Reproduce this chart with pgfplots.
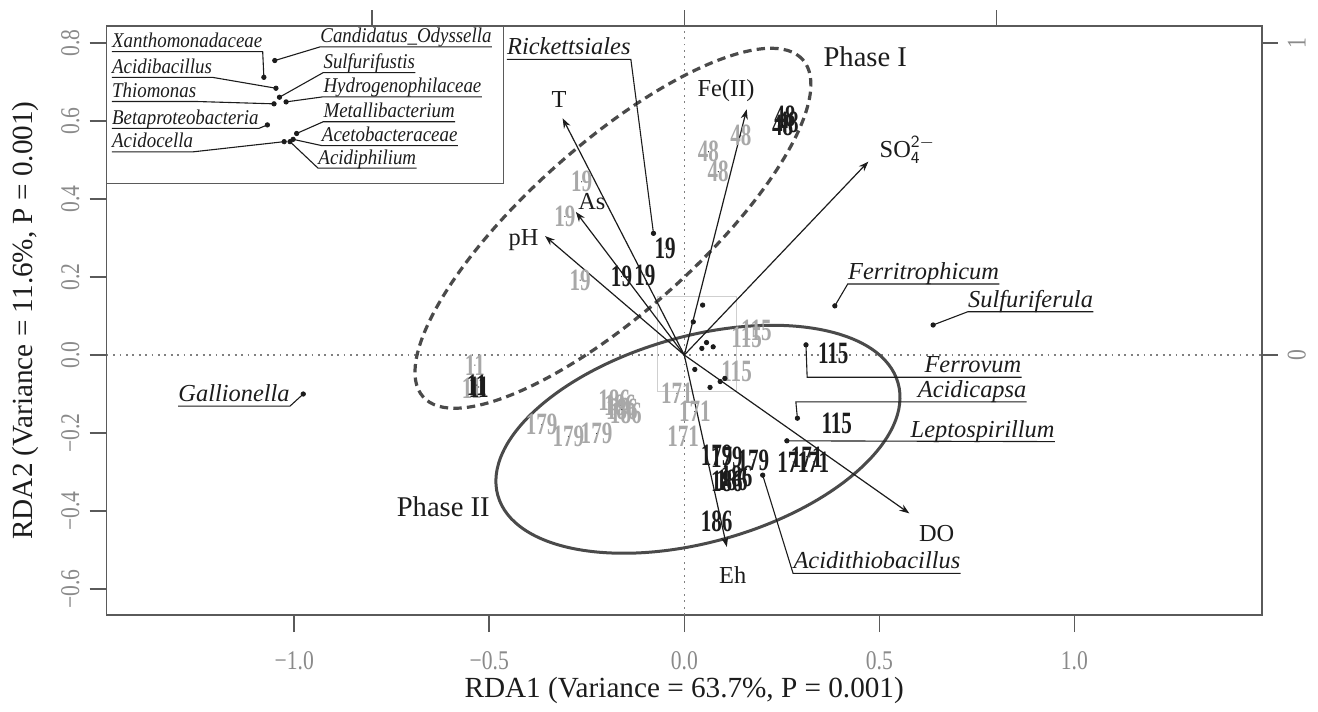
\documentclass[border=0pt]{standalone}
\usepackage{pgfplots}
\pgfplotsset{compat=1.18}
\usepackage{pgfplotstable}
\usepackage{fontspec}
\setmainfont{Liberation Serif}
\newfontfamily\tickfont[FakeStretch=0.8]{Liberation Serif}
\newfontfamily\numfont[FakeStretch=0.68]{Liberation Serif}
\newfontfamily\insetfont[FakeStretch=0.9]{Liberation Serif}
\usetikzlibrary{arrows.meta}
\definecolor{axgray}{HTML}{5A5A5A}
\definecolor{tickgray}{HTML}{8A8A8A}
\definecolor{lblgray}{HTML}{A8A8A8}
\definecolor{ellgray}{HTML}{4A4A4A}
\definecolor{ink}{HTML}{1C1C1C}
\definecolor{boxgray}{HTML}{CFCFCF}

\pgfplotstableread{
x y lab
-0.263 0.444 19
-0.306 0.355 19
-0.267 0.192 19
0.145 0.562 48
0.062 0.521 48
0.087 0.470 48
-0.537 -0.026 11
-0.545 -0.085 11
0.160 0.045 115
0.185 0.062 115
0.134 -0.043 115
-0.019 -0.098 171
0.027 -0.145 171
-0.003 -0.209 171
-0.366 -0.179 179
-0.297 -0.209 179
-0.225 -0.201 179
-0.180 -0.115 186
-0.165 -0.130 186
-0.150 -0.150 186
-0.160 -0.140 186
}\graylabels

\pgfplotstableread{
x y lab
-0.049 0.274 19
-0.161 0.201 19
-0.101 0.205 19
0.258 0.611 48
0.266 0.597 48
0.252 0.590 48
-0.532 -0.077 11
-0.527 -0.082 11
0.382 0.004 115
0.391 -0.175 115
0.083 -0.258 179
0.109 -0.262 179
0.177 -0.269 179
0.279 -0.274 171
0.314 -0.261 171
0.331 -0.274 171
0.109 -0.325 186
0.122 -0.321 186
0.134 -0.312 186
0.083 -0.427 186
}\blacklabels

\pgfplotstableread{
x y u v
0 0 -0.312 0.607
0 0 -0.278 0.367
0 0 -0.357 0.305
0 0 0.160 0.630
0 0 0.472 0.496
0 0 0.577 -0.406
0 0 0.109 -0.492
}\envvectors

\pgfplotstableread{
x y
-1.078 0.712
-1.050 0.755
-1.047 0.684
-1.038 0.661
-1.052 0.644
-1.021 0.649
-1.069 0.590
-0.994 0.568
-1.026 0.547
-1.003 0.553
-1.011 0.547
0.023 0.085
0.047 0.128
0.057 0.032
0.045 0.017
0.074 0.021
0.027 -0.037
0.104 -0.060
0.092 -0.068
0.066 -0.083
-0.079 0.312
-0.977 -0.100
0.386 0.126
0.638 0.077
0.312 0.026
0.290 -0.162
0.263 -0.220
0.201 -0.308
}\speciesdots

\begin{document}
\begin{tikzpicture}[
  leader/.style={draw=ink, line width=0.55pt},
  splab/.style={font=\fontsize{12.2}{14}\selectfont\itshape, text=ink, inner sep=0pt, yshift=2.3pt},
  inlab/.style={font=\insetfont\fontsize{10.5}{12}\selectfont\itshape, text=ink, inner sep=0pt, yshift=2pt},
  envlab/.style={font=\fontsize{12.2}{14}\selectfont, text=ink, inner sep=0pt},
]
\begin{axis}[
  x=195pt, y=195pt,
  xmin=-1.481, xmax=1.4805, ymin=-0.6667, ymax=0.8436,
  axis line style={draw=axgray, line width=0.8pt},
  xtick={-1,-0.5,0,0.5,1},
  xticklabels={−1.0,−0.5,0.0,0.5,1.0},
  ytick={-0.6,-0.4,-0.2,0,0.2,0.4,0.6,0.8},
  yticklabels={−0.6,−0.4,−0.2,0.0,0.2,0.4,0.6,0.8},
  xtick pos=bottom, ytick pos=left,
  tick align=outside, major tick length=8.5pt,
  every tick/.style={draw=axgray, line width=0.8pt},
  tick label style={font=\tickfont\fontsize{13.5}{15}\selectfont, text=tickgray},
  xticklabel style={anchor=north},
  yticklabel style={rotate=90, anchor=south},
  xticklabel shift=6pt,
  yticklabel shift=1.5pt,
  clip=false,
]
% reference lines
\draw[gray, line width=0.8pt, dash pattern=on 0.9pt off 2.3pt] (axis cs:-1.481,0) -- (axis cs:1.4805,0);
\draw[gray, line width=0.8pt, dash pattern=on 0.9pt off 2.3pt] (axis cs:0,-0.6667) -- (axis cs:0,0.8436);
% small zoom rectangle and inset frame
\draw[boxgray, line width=0.5pt] (axis cs:-0.070,-0.094) rectangle (axis cs:0.135,0.151);
\draw[axgray, line width=0.8pt] (axis cs:-1.481,0.440) rectangle (axis cs:-0.464,0.8436);

% ellipses
\draw[ellgray, line width=1.5pt, rotate around={15.7:(axis cs:0.035,-0.216)}] (axis cs:0.035,-0.216) ellipse [x radius=0.533, y radius=0.264];
\draw[ellgray, line width=1.6pt, dash pattern=on 4.2pt off 2.6pt, rotate around={41.6:(axis cs:-0.183,0.325)}] (axis cs:-0.183,0.325) ellipse [x radius=0.651, y radius=0.216];

% sample labels
\addplot[only marks, mark=*, mark size=0.01pt, mark options={draw=none, fill=none},
  nodes near coords, point meta=explicit symbolic,
  every node near coord/.style={anchor=center, inner sep=0pt, font=\numfont\bfseries\fontsize{15.5}{16}\selectfont, text=lblgray}]
  table[meta=lab] {\graylabels};
\addplot[only marks, mark=*, mark size=0.01pt, mark options={draw=none, fill=none},
  nodes near coords, point meta=explicit symbolic,
  every node near coord/.style={anchor=center, inner sep=0pt, font=\numfont\bfseries\fontsize{15.5}{16}\selectfont, text=ink}]
  table[meta=lab] {\blacklabels};

% environmental vectors
\addplot[ink, line width=0.6pt, -{Stealth[length=5pt,width=3.6pt]}, quiver={u=\thisrow{u}, v=\thisrow{v}}] table {\envvectors};

\node[envlab] at (axis cs:-0.321,0.654) {T};
\node[envlab] at (axis cs:-0.237,0.393) {As};
\node[envlab] at (axis cs:-0.412,0.295) {pH};
\node[envlab] at (axis cs:0.107,0.679) {Fe(II)};
\node[envlab, anchor=west] at (axis cs:0.500,0.526) {SO$_{\mathsf{4}}^{\mathsf{2-}}$};
\node[envlab] at (axis cs:0.647,-0.457) {DO};
\node[envlab] at (axis cs:0.124,-0.564) {Eh};

\node[font=\fontsize{14.3}{16}\selectfont, text=ink] at (axis cs:0.464,0.765) {Phase I};
\node[font=\fontsize{14.3}{16}\selectfont, text=ink] at (axis cs:-0.618,-0.389) {Phase II};

% species dots
\addplot[only marks, mark=*, mark size=1.1pt, ink] table {\speciesdots};

% main species labels
\node[splab, anchor=base east] (rk) at (axis cs:-0.137,0.758) {Rickettsiales};
\draw[leader] (axis cs:-0.079,0.312) -- (axis cs:-0.137,0.758) -- ([yshift=-2.3pt]rk.base west);
\node[splab, anchor=base east] (ga) at (axis cs:-1.011,-0.131) {Gallionella};
\draw[leader] (axis cs:-0.977,-0.100) -- (axis cs:-1.011,-0.131) -- ([yshift=-2.3pt]ga.base west);
\node[splab, anchor=base west] (fe) at (axis cs:0.419,0.182) {Ferritrophicum};
\draw[leader] (axis cs:0.386,0.126) -- (axis cs:0.419,0.182) -- ([yshift=-2.3pt]fe.base east);
\node[splab, anchor=base west] (su) at (axis cs:0.727,0.111) {Sulfuriferula};
\draw[leader] (axis cs:0.638,0.077) -- (axis cs:0.727,0.111) -- ([yshift=-2.3pt]su.base east);
\node[splab, anchor=base east] (fv) at (axis cs:0.865,-0.057) {Ferrovum};
\draw[leader] (axis cs:0.312,0.026) -- (axis cs:0.315,-0.057) -- (axis cs:0.865,-0.057);
\node[splab, anchor=base east] (ac) at (axis cs:0.878,-0.120) {Acidicapsa};
\draw[leader] (axis cs:0.290,-0.162) -- (axis cs:0.286,-0.120) -- (axis cs:0.878,-0.120);
\node[splab, anchor=base east] (lp) at (axis cs:0.950,-0.222) {Leptospirillum};
\draw[leader] (axis cs:0.263,-0.220) -- (axis cs:0.950,-0.222);
\node[splab, anchor=base west] (at) at (axis cs:0.279,-0.560) {Acidithiobacillus};
\draw[leader] (axis cs:0.201,-0.308) -- (axis cs:0.279,-0.560) -- ([yshift=-2.3pt]at.base east);

% inset labels (left column)
\node[inlab, anchor=base west] (i1) at (axis cs:-1.468,0.778) {Xanthomonadaceae};
\draw[leader] (axis cs:-1.078,0.712) -- ([yshift=-2pt]i1.base east) -- (axis cs:-1.468,0.778);
\node[inlab, anchor=base west] (i3) at (axis cs:-1.468,0.712) {Acidibacillus};
\draw[leader] (axis cs:-1.047,0.684) -- ([yshift=-2pt]i3.base east) -- (axis cs:-1.468,0.712);
\node[inlab, anchor=base west] (i5) at (axis cs:-1.468,0.650) {Thiomonas};
\draw[leader] (axis cs:-1.052,0.644) -- ([yshift=-2pt]i5.base east) -- (axis cs:-1.468,0.650);
\node[inlab, anchor=base west] (i7) at (axis cs:-1.468,0.581) {Betaproteobacteria};
\draw[leader] (axis cs:-1.069,0.590) -- ([yshift=-2pt]i7.base east) -- (axis cs:-1.468,0.581);
\node[inlab, anchor=base west] (i9) at (axis cs:-1.468,0.521) {Acidocella};
\draw[leader] (axis cs:-1.026,0.547) -- ([yshift=-2pt]i9.base east) -- (axis cs:-1.468,0.521);
% inset labels (right column)
\node[inlab, anchor=base west] (i2) at (axis cs:-0.934,0.790) {Candidatus\_Odyssella};
\draw[leader] (axis cs:-1.050,0.755) -- (axis cs:-0.934,0.790) -- ([yshift=-2pt]i2.base east);
\node[inlab, anchor=base west] (i4) at (axis cs:-0.926,0.724) {Sulfurifustis};
\draw[leader] (axis cs:-1.038,0.661) -- (axis cs:-0.926,0.724) -- ([yshift=-2pt]i4.base east);
\node[inlab, anchor=base west] (i6) at (axis cs:-0.926,0.662) {Hydrogenophilaceae};
\draw[leader] (axis cs:-1.021,0.649) -- (axis cs:-0.926,0.662) -- ([yshift=-2pt]i6.base east);
\node[inlab, anchor=base west] (i8) at (axis cs:-0.926,0.598) {Metallibacterium};
\draw[leader] (axis cs:-0.994,0.568) -- (axis cs:-0.926,0.598) -- ([yshift=-2pt]i8.base east);
\node[inlab, anchor=base west] (i10) at (axis cs:-0.930,0.537) {Acetobacteraceae};
\draw[leader] (axis cs:-1.003,0.553) -- (axis cs:-0.930,0.537) -- ([yshift=-2pt]i10.base east);
\node[inlab, anchor=base west] (i11) at (axis cs:-0.939,0.479) {Acidiphilium};
\draw[leader] (axis cs:-1.011,0.547) -- (axis cs:-0.939,0.479) -- ([yshift=-2pt]i11.base east);

% axis titles
\node[font=\fontsize{14.6}{16}\selectfont, text=ink] at ([yshift=-37.5pt]rel axis cs:0.5,0) {RDA1 (Variance = 63.7\%, P = 0.001)};
\node[font=\fontsize{14.6}{16}\selectfont, text=ink, rotate=90] at ([xshift=-40.8pt]rel axis cs:0,0.5) {RDA2 (Variance = 11.6\%, P = 0.001)};

\coordinate (SW) at (rel axis cs:0,0);
\coordinate (NE) at (rel axis cs:1,1);
\end{axis}

% secondary (species-scaled) axes on top and right
\begin{axis}[
  x=156pt, y=156pt,
  xmin=-1.85125, xmax=1.850625, ymin=-0.833375, ymax=1.0545,
  axis x line*=top, axis y line*=right,
  axis line style={draw=axgray, line width=0.8pt},
  xtick={-1,0,1}, xticklabels={},
  ytick={0,1}, yticklabels={0,1},
  tick align=outside, major tick length=8pt,
  every tick/.style={draw=axgray, line width=0.8pt},
  tick label style={font=\tickfont\fontsize{13.5}{15}\selectfont, text=tickgray},
  yticklabel style={rotate=90, anchor=north},
  yticklabel shift=1.5pt,
]
\end{axis}

\pgfresetboundingbox
\path[use as bounding box] ([shift={(-53.35pt,-48pt)}]SW) rectangle ([shift={(28.15pt,13pt)}]NE);
\end{tikzpicture}
\end{document}
